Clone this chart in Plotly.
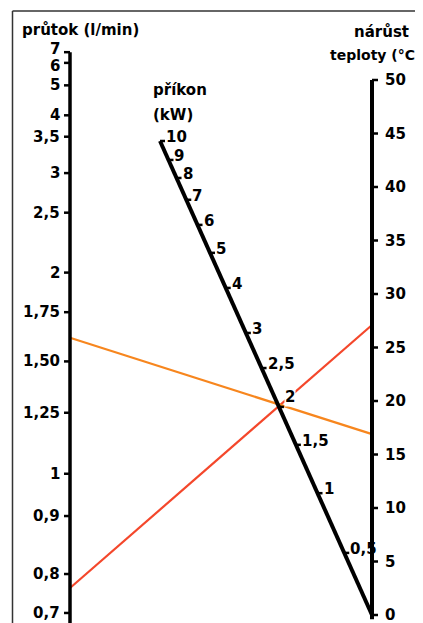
import numpy as np
import plotly.graph_objects as go

# ---------------- DATA ----------------
# flow axis (left) – l/min
flow_ticks = [7, 6, 5, 4, 3.5, 3, 2.5, 2, 1.75, 1.5, 1.25, 1, 0.9, 0.8, 0.7]
flow_labels = ["7", "6", "5", "4", "3,5", "3", "2,5", "2", "1,75", "1,50", "1,25", "1", "0,9", "0,8", "0,7"]
# temperature-rise axis (right) – °C
temp_ticks = [0, 5, 10, 15, 20, 25, 30, 35, 40, 45, 50]
temp_labels = ["0", "5", "10", "15", "20", "25", "30", "35", "40", "45", "50"]
# power axis (middle, slanted) – kW
power_ticks = [10, 9, 8, 7, 6, 5, 4, 3, 2.5, 2, 1.5, 1, 0.5]
power_labels = ["10", "9", "8", "7", "6", "5", "4", "3", "2,5", "2", "1,5", "1", "0,5"]

# example reading lines: (flow l/min, temperature rise °C)
red_flow, red_temp = 0.764, 27.1
orange_flow, orange_temp = 1.62, 16.9

# ---------------- NOMOGRAM GEOMETRY ----------------
# vertical coordinate = the linear °C scale of the right axis
# heights of the flow ticks on that common vertical scale (the drawn flow scale)
flow_scale_height = [52.6, 51.6, 49.5, 46.7, 44.7, 41.3, 37.6, 32.0, 28.3, 23.7, 18.9, 13.2, 9.25, 3.83, 0.19]
# fraction along the slanted power axis (0 = bottom end, 1 = top end)
power_scale_frac = [1.0, 0.960, 0.922, 0.876, 0.823, 0.764, 0.690, 0.595, 0.521, 0.439, 0.359, 0.257, 0.131]
X_LEFT, X_RIGHT = 0.0, 1.0
P_TOP = (0.298, 44.3)   # top end of power axis
P_BOT = (1.0, 0.0)      # bottom end of power axis

PAGE_OFF = 8            # default page body margin
W, H = 423 - PAGE_OFF, 623 - PAGE_OFF
PX_X = 302.0   # pixels per x unit
PX_Y = 10.7    # pixels per °C unit
LEFT_PX = 70 - PAGE_OFF
ZERO_PX = 615 - PAGE_OFF
X_RANGE = [-LEFT_PX / PX_X, (W - LEFT_PX) / PX_X]
Y_RANGE = [(ZERO_PX - H) / PX_Y, ZERO_PX / PX_Y]

FONT = "DejaVu Sans"
FLOW_LABEL_SHIFT = {"7": 3, "6": -3}


def flow_y(q):
    order = np.argsort(flow_ticks)
    return float(np.interp(q, np.array(flow_ticks)[order], np.array(flow_scale_height)[order]))


def power_xy(f):
    return (P_BOT[0] + (P_TOP[0] - P_BOT[0]) * f, P_BOT[1] + (P_TOP[1] - P_BOT[1]) * f)


def paper(px, py):
    return (px - PAGE_OFF) / W, 1 - (py - PAGE_OFF) / H


fig = go.Figure()

# reading lines
for q, t, col in [(red_flow, red_temp, "#F4472B"), (orange_flow, orange_temp, "#F7861E")]:
    fig.add_trace(go.Scatter(x=[X_LEFT, X_RIGHT], y=[flow_y(q), t], mode="lines",
                             line=dict(color=col, width=2.2), hoverinfo="skip"))

# left axis line
fig.add_trace(go.Scatter(x=[X_LEFT, X_LEFT], y=[flow_scale_height[0], Y_RANGE[0]], mode="lines",
                         line=dict(color="black", width=3.5), hoverinfo="skip"))
# right axis line
fig.add_trace(go.Scatter(x=[X_RIGHT, X_RIGHT], y=[temp_ticks[-1], -0.4], mode="lines",
                         line=dict(color="black", width=4), hoverinfo="skip"))
# power axis line
fig.add_trace(go.Scatter(x=[P_TOP[0], P_BOT[0]], y=[P_TOP[1], P_BOT[1]], mode="lines",
                         line=dict(color="black", width=4), hoverinfo="skip"))

# ticks
tl = 6 / PX_X
tx, ty = [], []
for h in flow_scale_height:
    tx += [X_LEFT - tl, X_LEFT, None]
    ty += [h, h, None]
for t in temp_ticks:
    tx += [X_RIGHT, X_RIGHT + tl, None]
    ty += [t, t, None]
for f in power_scale_frac:
    px, py = power_xy(f)
    tx += [px, px + 5 / PX_X, None]
    ty += [py, py, None]
fig.add_trace(go.Scatter(x=tx, y=ty, mode="lines", line=dict(color="black", width=2.5),
                         hoverinfo="skip"))

annots = []
lab_font = dict(family=FONT, size=15, color="black", weight="bold")
for h, lab in zip(flow_scale_height, flow_labels):
    annots.append(dict(x=X_LEFT - 8 / PX_X, y=h, text=lab, xanchor="right", yanchor="middle",
                       yshift=FLOW_LABEL_SHIFT.get(lab, 0),
                       showarrow=False, font=lab_font))
for t, lab in zip(temp_ticks, temp_labels):
    annots.append(dict(x=X_RIGHT + 11 / PX_X, y=t, text=lab, xanchor="left", yanchor="middle",
                       showarrow=False, font=lab_font))
for f, lab in zip(power_scale_frac, power_labels):
    px, py = power_xy(f)
    annots.append(dict(x=px + 5 / PX_X, y=py, text=lab, xanchor="left", yanchor="middle",
                       yshift=10 if lab == "2" else 4, showarrow=False, font=lab_font,
                       bgcolor="white" if lab == "2" else None, borderpad=0))

# titles
for txt, xp, yp, anc, fs in [("průtok (l/min)", 80, 30, "center", 15), ("nárůst", 381, 32, "center", 15),
                             ("teploty (°C)", 328, 55, "left", 14), ("příkon", 151, 90, "left", 15),
                             ("(kW)", 151, 115, "left", 15)]:
    ax, ay = paper(xp, yp)
    annots.append(dict(x=ax, y=ay, xref="paper", yref="paper", text=txt,
                       xanchor=anc, yanchor="middle", showarrow=False,
                       font=dict(family=FONT, size=fs, color="black", weight="bold")))

fx0, fy0 = paper(12.5, 11)
fig.update_layout(
    width=W, height=H, margin=dict(l=0, r=0, t=0, b=0),
    paper_bgcolor="white", plot_bgcolor="white", showlegend=False,
    xaxis=dict(range=X_RANGE, visible=False, fixedrange=True),
    yaxis=dict(range=Y_RANGE, visible=False, fixedrange=True),
    annotations=annots,
    shapes=[dict(type="line", xref="paper", yref="paper", x0=fx0, x1=1.05, y0=fy0, y1=fy0,
                 line=dict(color="#333", width=1.5)),
            dict(type="line", xref="paper", yref="paper", x0=fx0, x1=fx0, y0=-0.05, y1=fy0,
                 line=dict(color="#333", width=1.5))],
)

fig.write_html("out.html")
